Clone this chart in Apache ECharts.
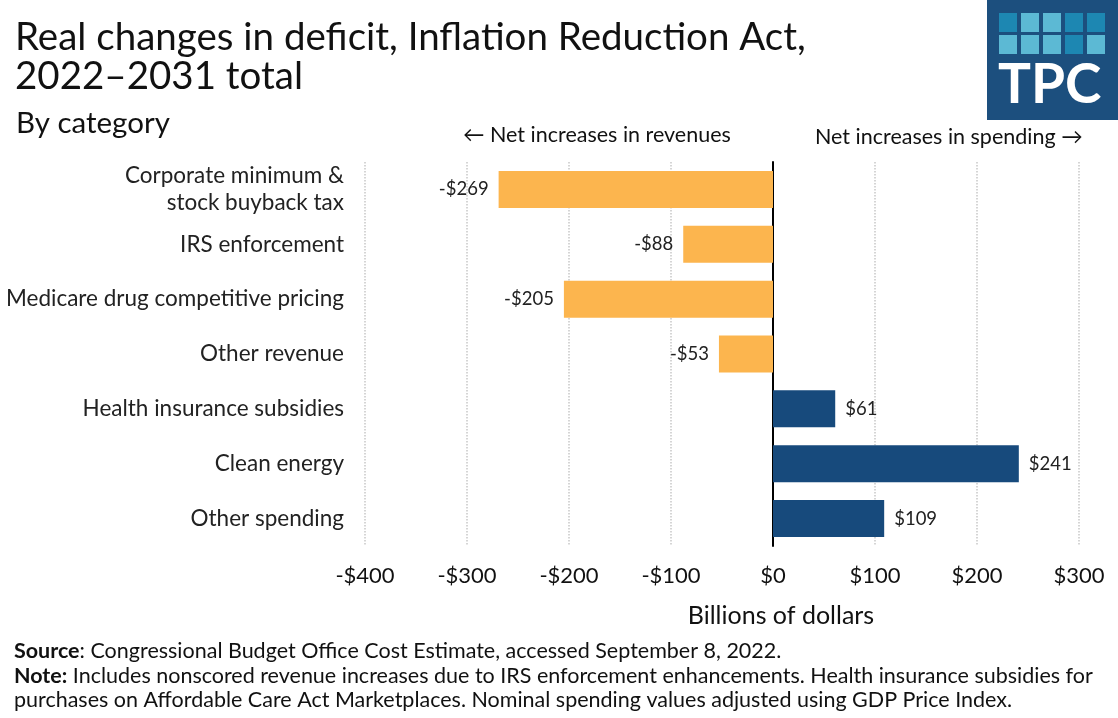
<!DOCTYPE html>
<html><head><meta charset="utf-8">
<script src="https://cdn.jsdelivr.net/npm/echarts@6/dist/echarts.min.js"></script>
<style>html,body{margin:0;padding:0;background:#fff}#c{width:1118px;height:718px}</style>
</head><body><div id="c"></div>
<script>
const categories = ["Corporate minimum &\nstock buyback tax","IRS enforcement","Medicare drug competitive pricing","Other revenue","Health insurance subsidies","Clean energy","Other spending"];
const values = [-269,-88,-205,-53,61,241,109];
const xTicks = {min:-400,max:300,interval:100};
const F = 'Lato, "Noto Sans", sans-serif';
const chart = echarts.init(document.getElementById('c'));
const fmt = v => (v<0?'-$':'$')+Math.abs(v);
const sq = [
 [0,0,'#1d87b2'],[1,0,'#5cb9d4'],[2,0,'#5cb9d4'],[3,0,'#1d87b2'],[4,0,'#1d87b2'],
 [0,1,'#5cb9d4'],[1,1,'#5cb9d4'],[2,1,'#5cb9d4'],[3,1,'#1d87b2'],[4,1,'#5cb9d4']];
const logo = [{type:'rect',shape:{x:987,y:0,width:131,height:120},style:{fill:'#1c4f7e'}}]
 .concat(sq.map(s=>({type:'rect',shape:{x:999+s[0]*22,y:13+s[1]*22,width:18,height:19},style:{fill:s[2]}})))
 .concat([{type:'text',left:998,top:58,style:{text:'TPC',fill:'#fff',font:'bold 55px '+F}}]);
chart.setOption({
  animation:false,
  grid:{left:365,right:39,top:162,height:384,outerBoundsMode:'none',containLabel:false},
  xAxis:{type:'value',min:xTicks.min,max:xTicks.max,interval:xTicks.interval,
    axisLine:{show:false},axisTick:{show:false},
    splitLine:{show:true,lineStyle:{type:'dotted',color:'#c8c8c8',width:1.5}},
    axisLabel:{formatter:fmt,fontFamily:F,fontSize:22,color:'#111',margin:19},
    name:'Billions of dollars',nameLocation:'middle',nameGap:57,
    nameTextStyle:{fontFamily:F,fontSize:25,color:'#111',padding:[0,0,0,118]}},
  yAxis:{type:'category',data:categories,inverse:true,
    axisLine:{show:true,onZero:true,lineStyle:{color:'#000',width:2}},axisTick:{show:false},
    axisLabel:{fontFamily:F,fontSize:22.5,color:'#222',margin:21,align:'right',lineHeight:27}},
  series:[{type:'bar',data:values.map(v=>({value:v,label:{position:v<0?'left':'right'}})),barWidth:37,
    itemStyle:{color:p=>p.value<0?'#fcb54e':'#174a7c'},
    label:{show:true,fontFamily:F,fontSize:18.5,color:'#222',distance:10,
      formatter:p=>fmt(p.value)}}],
  graphic:[
    {type:'text',left:15,top:18,style:{text:'Real changes in deficit, Inflation Reduction Act,\n2022–2031 total',font:'38.5px '+F,fill:'#111',lineHeight:39}},
    {type:'text',left:16,top:108,style:{text:'By category',font:'29.5px '+F,fill:'#111'}},
    {type:'text',left:463,top:124,style:{text:'← Net increases in revenues',font:'21.5px '+F,fill:'#111'}},
    {type:'text',left:815,top:126,style:{text:'Net increases in spending →',font:'21.5px '+F,fill:'#111'}},
    {type:'text',left:14,top:639,style:{text:'{b|Source}: Congressional Budget Office Cost Estimate, accessed September 8, 2022.\n{b|Note:} Includes nonscored revenue increases due to IRS enforcement enhancements. Health insurance subsidies for\npurchases on Affordable Care Act Marketplaces. Nominal spending values adjusted using GDP Price Index.',
      font:'21.5px '+F,fill:'#111',lineHeight:24.5,rich:{b:{font:'bold 21.5px '+F,fill:'#111'}}}}
  ].concat(logo)
});
</script></body></html>
